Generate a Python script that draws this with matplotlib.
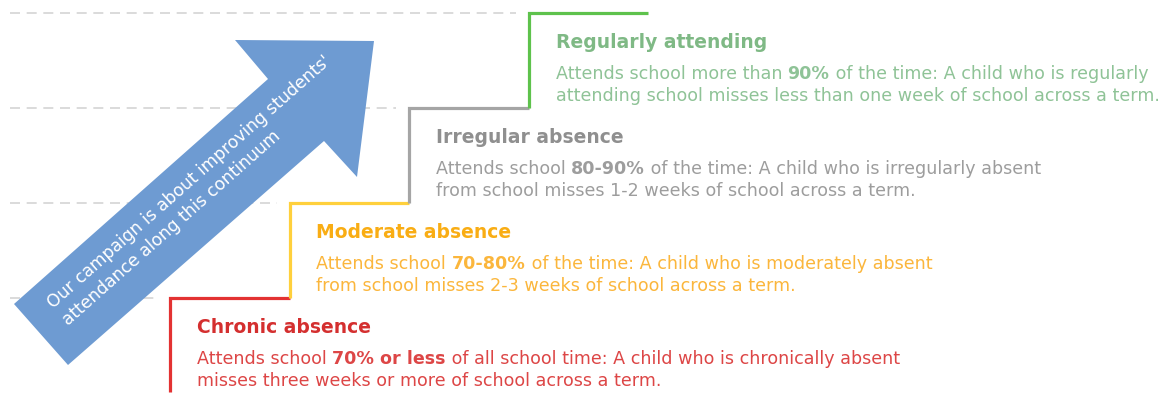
import matplotlib
matplotlib.use("Agg")
import matplotlib.pyplot as plt
from matplotlib.patches import Polygon

# attendance levels, bottom step first
levels = ["Chronic absence", "Moderate absence", "Irregular absence", "Regularly attending"]
text_pre = ["Attends school ", "Attends school ", "Attends school ", "Attends school more than "]
text_bold = ["70% or less", "70-80%", "80-90%", "90%"]
text_post = [" of all school time: A child who is chronically absent",
             " of the time: A child who is moderately absent",
             " of the time: A child who is irregularly absent",
             " of the time: A child who is regularly"]
text_line2 = ["misses three weeks or more of school across a term.",
              "from school misses 2-3 weeks of school across a term.",
              "from school misses 1-2 weeks of school across a term.",
              "attending school misses less than one week of school across a term."]
title_colors = ["#d42f2f", "#f9ad14", "#8f8f8f", "#7fb985"]
body_colors = ["#dd4646", "#fbb63c", "#9d9d9d", "#8fc397"]
step_colors = ["#e33232", "#ffd03c", "#a5a5a5", "#5ec24c"]
arrow_lines = ["Our campaign is about improving students'",
               "attendance along this continuum"]

W, H = 1163, 416
fig = plt.figure(figsize=(W / 100, H / 100), dpi=100)
ax = fig.add_axes([0, 0, 1, 1])
ax.set_xlim(0, W)
ax.set_ylim(H, 0)
ax.axis("off")

x0, y0 = 170, 298
dx, dy = 119.5, 95
font = "DejaVu Sans"

# dashed guide lines on the left
for i in range(4):
    yy = y0 - i * dy
    ax.plot([10, x0 + i * dx - 13], [yy, yy], color="#d4d4d4", lw=1.2,
            dashes=(6, 4), zorder=1)

# the staircase
for i in range(4):
    xs = x0 + i * dx
    ys = y0 - i * dy
    bottom = 392 if i == 0 else ys + dy
    ax.plot([xs, xs, xs + dx], [bottom, ys, ys], color=step_colors[i], lw=2.3,
            solid_joinstyle="miter", solid_capstyle="butt", zorder=2)

# blue arrow
arrow_pts = [(14, 304), (68, 365), (324, 141), (357, 177), (374, 41),
             (235, 40), (268, 79)]
ax.add_patch(Polygon(arrow_pts, closed=True, facecolor="#6e9bd2",
                     edgecolor="none", zorder=3))
for k, line in enumerate(arrow_lines):
    ax.text(53 + 15 * k, 309 + 17 * k, line, rotation=41.5, rotation_mode="anchor",
            ha="left", va="baseline", color="white", fontsize=12.3,
            family=font, zorder=4)

fig.canvas.draw()
renderer = fig.canvas.get_renderer()


def put(x, y, s, color, bold=False, size=12.6):
    t = ax.text(x, y, s, color=color, fontsize=size, family=font,
                fontweight="bold" if bold else "normal",
                ha="left", va="baseline", zorder=4)
    bb = t.get_window_extent(renderer=renderer)
    return x + bb.width


for i in range(4):
    tx = x0 + 27 + i * dx
    ty = y0 - i * dy
    put(tx, ty + 35, levels[i], title_colors[i], bold=True, size=13.5)
    xx = put(tx, ty + 66, text_pre[i], body_colors[i])
    xx = put(xx, ty + 66, text_bold[i], body_colors[i], bold=True)
    put(xx, ty + 66, text_post[i], body_colors[i])
    put(tx, ty + 88, text_line2[i], body_colors[i])

fig.savefig("out.png", dpi=100)
